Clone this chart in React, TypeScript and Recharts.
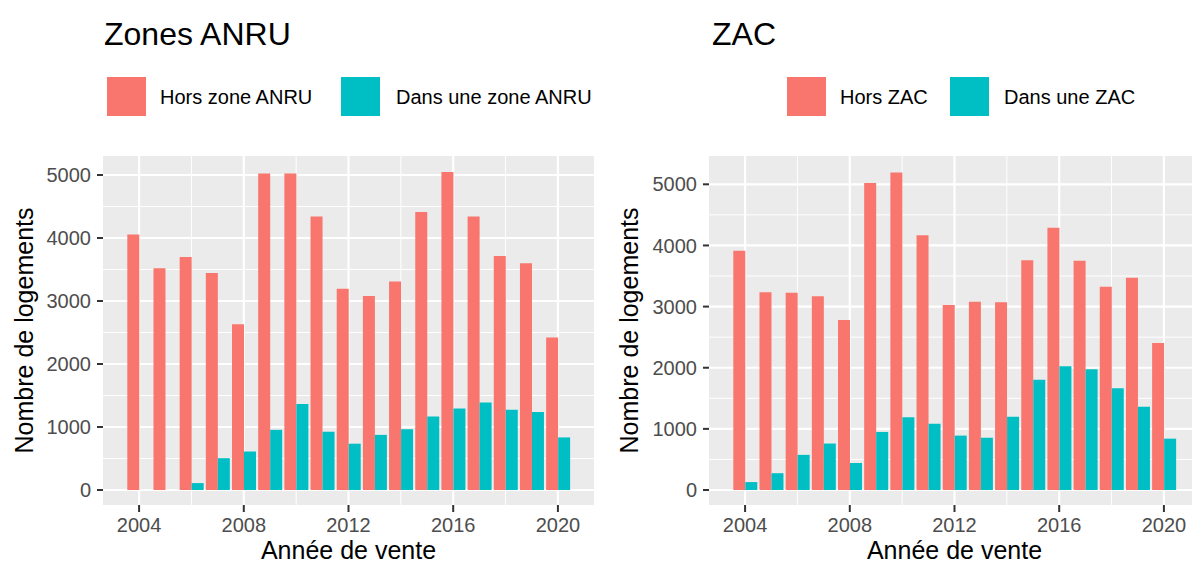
import { BarChart, Bar, XAxis, YAxis, CartesianGrid } from 'recharts';

const years = [2004, 2005, 2006, 2007, 2008, 2009, 2010, 2011, 2012, 2013, 2014, 2015, 2016, 2017, 2018, 2019, 2020];

const anruHors = [4055, 3520, 3700, 3445, 2630, 5025, 5025, 4340, 3195, 3080, 3310, 4415, 5050, 4340, 3715, 3600, 2420];
const anruDans = [0, 0, 110, 505, 610, 955, 1365, 925, 735, 875, 965, 1165, 1295, 1390, 1275, 1240, 835];

const zacHors = [3915, 3235, 3225, 3170, 2780, 5020, 5195, 4165, 3025, 3080, 3070, 3760, 4290, 3750, 3325, 3470, 2405];
const zacDans = [130, 275, 575, 760, 440, 950, 1190, 1085, 890, 855, 1200, 1805, 2025, 1975, 1665, 1360, 840];

const yMajor = [0, 1000, 2000, 3000, 4000, 5000];
const yMinor = [500, 1500, 2500, 3500, 4500];
const xMajor = [2004, 2008, 2012, 2016, 2020];
const xMinor = [2006, 2010, 2014, 2018];

const RED = '#F8766D';
const TEAL = '#00BFC4';
const FONT = '"Liberation Sans", Arial, sans-serif';

const toRows = (hors: number[], dans: number[]) =>
  years.map((year, i) => ({ year, hors: hors[i], dans: dans[i] }));

// works for both a plain d3 scale and the wrapped scale object
const applyScale = (s: any, v: number): number => {
  if (typeof s === 'function') return s(v);
  if (s && typeof s.map === 'function') return s.map(v);
  if (s && typeof s.apply === 'function') return s.apply(v);
  return NaN;
};
const bandOf = (s: any): number => (s && typeof s.bandwidth === 'function' ? s.bandwidth() : 0);

// grid lines placed through the axis scales (band centre for categories)
const xGen = (values: number[]) => ({ xAxis }: any) => {
  const s = xAxis?.scale;
  const half = bandOf(s) / 2;
  return values.map((v) => applyScale(s, v) + half).filter((p) => Number.isFinite(p));
};
const yGen = (values: number[]) => ({ yAxis }: any) => {
  const s = yAxis?.scale;
  return values.map((v) => applyScale(s, v)).filter((p) => Number.isFinite(p));
};

type PanelProps = {
  rows: { year: number; hors: number; dans: number }[];
  width: number;
  yWidth: number;
  domain: [number, number];
  labelX: number;
};

function Panel({ rows, width, yWidth, domain, labelX }: PanelProps) {
  return (
    <BarChart
      width={width}
      height={425}
      data={rows}
      margin={{ top: 16, right: 6, left: 0, bottom: 0 }}
      barGap={0}
      barCategoryGap="5%"
    >
      <CartesianGrid
        fill="#EBEBEB"
        stroke="#FFFFFF"
        strokeWidth={1}
        horizontalCoordinatesGenerator={yGen(yMinor)}
        verticalCoordinatesGenerator={xGen(xMinor)}
      />
      <CartesianGrid
        stroke="#FFFFFF"
        strokeWidth={2.2}
        horizontalCoordinatesGenerator={yGen(yMajor)}
        verticalCoordinatesGenerator={xGen(xMajor)}
      />
      <XAxis
        dataKey="year"
        interval={3}
        padding={{ left: 23, right: 23 }}
        height={60}
        axisLine={false}
        tickSize={7}
        tickMargin={6}
        tickLine={{ stroke: '#333333', strokeWidth: 2 }}
        tick={{ fill: '#4D4D4D', fontSize: 20 }}
        label={{ value: 'Année de vente', position: 'insideBottom', offset: 6, fill: '#000', fontSize: 25 }}
      />
      <YAxis
        width={yWidth}
        domain={domain}
        allowDataOverflow
        ticks={yMajor}
        axisLine={false}
        tickSize={6}
        tickMargin={6}
        tickLine={{ stroke: '#333333', strokeWidth: 2 }}
        tick={{ fill: '#4D4D4D', fontSize: 20 }}
        label={{
          content: ({ viewBox }: any) => {
            const cy = viewBox.y + viewBox.height / 2;
            return (
              <text
                x={labelX}
                y={cy}
                transform={`rotate(-90 ${labelX} ${cy})`}
                textAnchor="middle"
                fill="#000"
                fontSize={25}
              >
                Nombre de logements
              </text>
            );
          },
        }}
      />
      <Bar dataKey="hors" fill={RED} isAnimationActive={false} />
      <Bar dataKey="dans" fill={TEAL} isAnimationActive={false} />
    </BarChart>
  );
}

export default function App() {
  return (
    <div
      style={{
        position: 'absolute',
        left: 0,
        top: 0,
        width: 1192,
        height: 565,
        overflow: 'hidden',
        background: '#fff',
        fontFamily: FONT,
      }}
    >
      <svg width={1192} height={140} style={{ position: 'absolute', left: 0, top: 0 }}>
        <text x={104} y={45} fontSize={32} fill="#000">Zones ANRU</text>
        <rect x={107} y={77} width={39} height={39} fill={RED} />
        <text x={160} y={104} fontSize={20} fill="#000">Hors zone ANRU</text>
        <rect x={341} y={77} width={39} height={39} fill={TEAL} />
        <text x={396} y={104} fontSize={20} fill="#000">Dans une zone ANRU</text>

        <text x={712} y={45} fontSize={32} fill="#000">ZAC</text>
        <rect x={787} y={77} width={39} height={39} fill={RED} />
        <text x={840} y={104} fontSize={20} fill="#000">Hors ZAC</text>
        <rect x={950} y={77} width={39} height={39} fill={TEAL} />
        <text x={1004} y={104} fontSize={20} fill="#000">Dans une ZAC</text>
      </svg>
      <div style={{ position: 'absolute', left: 0, top: 140 }}>
        <Panel rows={toRows(anruHors, anruDans)} width={600} yWidth={103} domain={[-238, 5302]} labelX={33} />
      </div>
      <div style={{ position: 'absolute', left: 600, top: 140 }}>
        <Panel rows={toRows(zacHors, zacDans)} width={606} yWidth={109} domain={[-245, 5463]} labelX={38} />
      </div>
    </div>
  );
}
